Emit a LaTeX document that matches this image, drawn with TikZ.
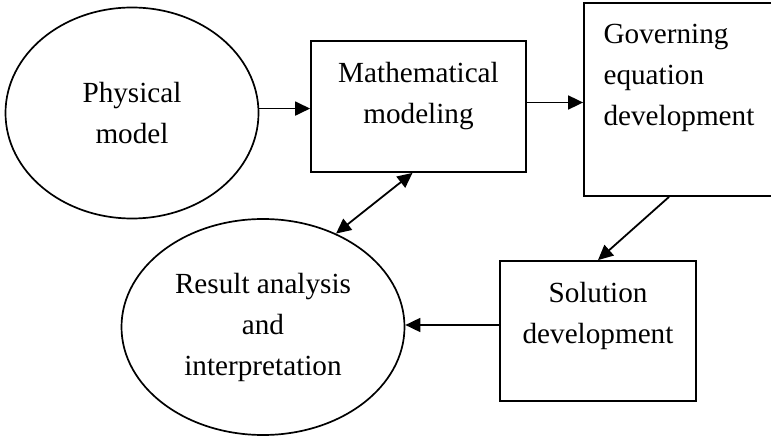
\documentclass[tikz,border=0pt]{standalone}
\usepackage{fontspec}
\setmainfont{Liberation Serif}
\usetikzlibrary{arrows.meta, positioning, shapes.geometric}
\tikzset{%
	blob/.style={draw, ellipse, line width=0.85pt, inner sep=0mm, align=center},
	stage/.style={draw, rectangle, line width=0.9pt, inner sep=0mm},
	inset/.style={anchor=north, align=center, yshift=-7.7pt},
	flow/.style={-{Triangle[length=7.5pt, width=7pt]}, line width=0.9pt},
	both/.style={{Triangle[length=7.5pt, width=7pt]}-{Triangle[length=7.5pt, width=7pt]}, line width=0.9pt}
}

\begin{document}
\begin{tikzpicture}[x=0.5pt, y=-0.5pt, font=\fontsize{14.6}{20.5}\selectfont]
	\useasboundingbox (0,0) rectangle (771,438);
	\node[blob, minimum width=126.5pt, minimum height=105.5pt] (phys) at (132,113) {Physical\\model};
	\node[stage, minimum width=107.5pt, minimum height=65.5pt,
		label={[inset]north:{Mathematical\\modeling}}] (math) at (418.5,106.5) {};
	\node[stage, minimum width=94pt, minimum height=96.5pt,
		label={[inset, anchor=north west, align=left, xshift=6.7pt]north west:{Governing\\equation\\development}}] (gov) at (678,99.5) {};
	\node[stage, minimum width=98pt, minimum height=70pt,
		label={[inset]north:{Solution\\development}}] (sol) at (598,331) {};
	\node[blob, minimum width=141.5pt, minimum height=108pt] (res) at (263,327) {Result analysis\\and\\interpretation};

	\draw[flow] (phys.2) -- (phys.2 -| math.west);
	\draw[flow] ([yshift=2pt]math.east) -- ([yshift=2pt]math.east -| gov.west);
	\draw[both] (res.52) -- ([xshift=-3pt]math.south);
	\draw[flow] ([xshift=-4.5pt]gov.south) -- (sol.north);
	\draw[flow] ([yshift=3pt]sol.west) -- ([yshift=3pt]sol.west -| res.east);
\end{tikzpicture}
\end{document}
